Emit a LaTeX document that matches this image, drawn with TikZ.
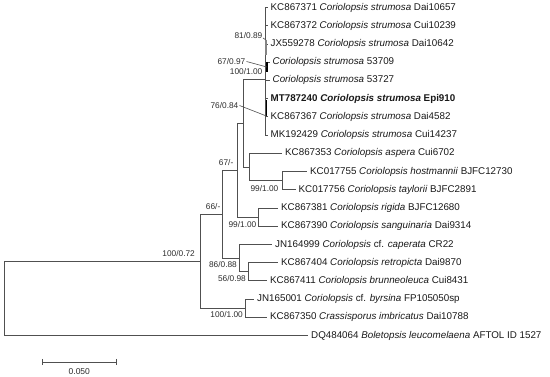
\documentclass[tikz,border=0pt]{standalone}
\usepackage{fontspec}
\setmainfont{Liberation Sans}
\definecolor{ln}{RGB}{80,80,80}
\definecolor{tx}{RGB}{25,25,25}
\definecolor{sp}{RGB}{45,45,45}
\begin{document}
\begin{tikzpicture}[x=1pt,y=-1pt,
  br/.style={draw=ln,line width=0.8pt},
  lead/.style={draw=ln,line width=0.6pt},
  thickseg/.style={draw=black,line width=1.5pt},
  tip/.style={anchor=west,inner sep=3pt,font=\fontsize{9.8}{11}\selectfont,text=tx},
  sup/.style={anchor=east,inner sep=0pt,font=\fontsize{8.3}{10}\selectfont,text=sp}]
\fill[white] (0,0) rectangle (550,377);
\useasboundingbox (0,0) rectangle (550,377);
% tips
\node[tip] (t1) at (267.5,7.5) {KC867371 \textit{Coriolopsis strumosa} Dai10657};
\node[tip] (t2) at (267.5,25.7) {KC867372 \textit{Coriolopsis strumosa} Cui10239};
\node[tip] (t3) at (267.5,44.0) {JX559278 \textit{Coriolopsis strumosa} Dai10642};
\node[tip] (t4) at (269.5,62.2) {\textit{Coriolopsis strumosa} 53709};
\node[tip] (t5) at (269.5,80.4) {\textit{Coriolopsis strumosa} 53727};
\node[tip] (t6) at (267.5,98.7) {\bfseries MT787240 \textit{Coriolopsis strumosa} Epi910};
\node[tip] (t7) at (267.5,116.9) {KC867367 \textit{Coriolopsis strumosa} Dai4582};
\node[tip] (t8) at (267.5,135.1) {MK192429 \textit{Coriolopsis strumosa} Cui14237};
\node[tip] (t9) at (282,153.3) {KC867353 \textit{Coriolopsis aspera} Cui6702};
\node[tip] (t10) at (307,171.6) {KC017755 \textit{Coriolopsis hostmannii} BJFC12730};
\node[tip] (t11) at (295.5,189.8) {KC017756 \textit{Coriolopsis taylorii} BJFC2891};
\node[tip] (t12) at (278,208.0) {KC867381 \textit{Coriolopsis rigida} BJFC12680};
\node[tip] (t13) at (278,226.3) {KC867390 \textit{Coriolopsis sanguinaria} Dai9314};
\node[tip] (t14) at (272,244.5) {JN164999 \textit{Coriolopsis} cf. \textit{caperata} CR22};
\node[tip] (t15) at (278,262.7) {KC867404 \textit{Coriolopsis retropicta} Dai9870};
\node[tip] (t16) at (267,280.9) {KC867411 \textit{Coriolopsis brunneoleuca} Cui8431};
\node[tip] (t17) at (254,299.2) {JN165001 \textit{Coriolopsis} cf. \textit{byrsina} FP105050sp};
\node[tip] (t18) at (267,317.4) {KC867350 \textit{Crassisporus imbricatus} Dai10788};
\node[tip] (t19) at (308,335.6) {DQ484064 \textit{Boletopsis leucomelaena} AFTOL ID 1527};
% internal nodes
\coordinate (R) at (4,298.4);
\coordinate (A) at (200,261.2);
\coordinate (B) at (222,214.1);
\coordinate (C) at (237,170.1);
\coordinate (E) at (243,123);
\coordinate (S) at (265.5,79);
\coordinate (H) at (249,167);
\coordinate (I) at (282,180.7);
\coordinate (F) at (258,217.2);
\coordinate (D) at (239,258.2);
\coordinate (G) at (248,271.8);
\coordinate (K) at (245,308.3);
% branches
\draw[br] (R) |- (A);
\draw[br] (R) |- (t19.west);
\draw[br] (A) |- (B);
\draw[br] (A) |- (K);
\draw[br] (B) |- (C);
\draw[br] (B) |- (D);
\draw[br] (C) |- (E);
\draw[br] (C) |- (F);
\draw[br] (E) |- (S);
\draw[br] (E) |- (H);
\foreach \t in {t1,t2,t3,t4,t5,t6,t7,t8} {\draw[br] (S) |- (\t.west);}
\draw[br] (H) |- (t9.west);
\draw[br] (H) |- (I);
\draw[br] (I) |- (t10.west);
\draw[br] (I) |- (t11.west);
\draw[br] (F) |- (t12.west);
\draw[br] (F) |- (t13.west);
\draw[br] (D) |- (t14.west);
\draw[br] (D) |- (G);
\draw[br] (G) |- (t15.west);
\draw[br] (G) |- (t16.west);
\draw[br] (K) |- (t17.west);
\draw[br] (K) |- (t18.west);
% short nodes inside the strumosa clade
\coordinate (n81a) at (266.2,40);
\coordinate (n81b) at (266.2,55);
\coordinate (n67a) at (266.8,62);
\coordinate (n67b) at (266.8,72);
\coordinate (n76a) at (266.4,100);
\coordinate (n76b) at (266.4,116);
\draw[thickseg,draw=ln!70] (n81a) -- (n81b);
\draw[thickseg] (n67a) -- (n67b);
\draw[thickseg] (n76a) -- (n76b);
% support values
\node[sup] (l81) at (262.5,36) {81/0.89};
\node[sup] (l67) at (245.5,61.5) {67/0.97};
\node[sup] (l100s) at (262.5,72) {100/1.00};
\node[sup] (l76) at (238.5,105.5) {76/0.84};
\node[sup] (l67b) at (233.5,163) {67/-};
\node[sup] (l99a) at (278.5,188.5) {99/1.00};
\node[sup] (l99b) at (256.5,225) {99/1.00};
\node[sup] (l66) at (220.5,207) {66/-};
\node[sup] (l100a) at (195,253.5) {100/0.72};
\node[sup] (l86) at (237,265) {86/0.88};
\node[sup] (l56) at (246,278.5) {56/0.98};
\node[sup] (l100b) at (243,314.5) {100/1.00};
% leader lines
\coordinate (p67) at (266.8,67);
\coordinate (p76) at (266.4,116);
\coordinate (p81) at (266,40);
\draw[lead] ([xshift=1pt]l67.east) -- (p67);
\draw[lead] ([xshift=1pt]l76.east) -- (p76);
\draw[lead] ([xshift=0.5pt,yshift=-2pt]l81.east) -- (p81);
% scale bar
\coordinate (sbL) at (42.7,362);
\coordinate (sbR) at (116,362);
\draw[br] (sbL) -- (sbR);
\draw[br] ([yshift=3pt]sbL) -- ([yshift=-3pt]sbL);
\draw[br] ([yshift=3pt]sbR) -- ([yshift=-3pt]sbR);
\node[font=\fontsize{8.5}{10}\selectfont,text=sp,inner sep=0pt] (sbt) at (79.3,371.5) {0.050};
\end{tikzpicture}
\end{document}
